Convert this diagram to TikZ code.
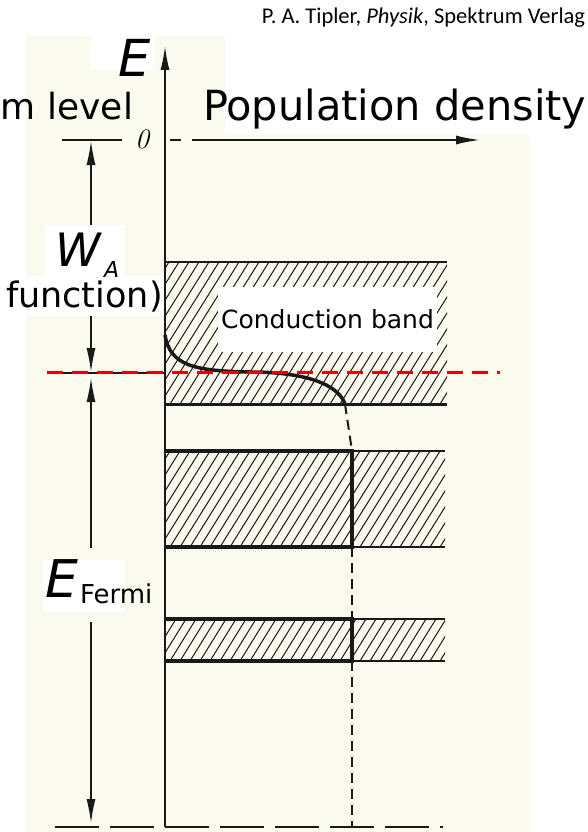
\documentclass[tikz,border=0pt]{standalone}
\usepackage{fontspec}
\newfontfamily\comic{DejaVu Sans}
\newfontfamily\titlefont{Carlito}
\usetikzlibrary{arrows.meta}
\definecolor{cream}{RGB}{250,250,238}
\definecolor{ink}{RGB}{25,25,25}
\definecolor{fermired}{RGB}{232,0,0}
\begin{document}
\begin{tikzpicture}[x=1pt,y=-1pt,
  axis/.style={ink,line width=1.8pt},
  dimline/.style={ink,line width=1.4pt},
  tipend/.style={-{Latex[length=24pt,width=9pt]}},
  tipboth/.style={{Latex[length=24pt,width=9pt]}-{Latex[length=24pt,width=9pt]}},
  tipstart/.style={{Latex[length=24pt,width=9pt]}-},
  hatch/.style={ink,line width=1pt},
  bandthick/.style={ink,line width=3.5pt},
  bandthin/.style={ink,line width=1.8pt},
  occdash/.style={ink,line width=2pt,dash pattern=on 10pt off 6pt},
  lbl/.style={inner sep=0pt,outer sep=0pt},
  wbox/.style={fill=white,draw=none},
]
\useasboundingbox (0,0) rectangle (588,832);
\fill[white] (0,0) rectangle (588,832);
\fill[cream] (26,36) rectangle (530,832);
% white label patches
\fill[wbox] (90,36) rectangle (155,70);
\fill[wbox] (225,36) rectangle (530,135);

% ---------- hatching of bands ----------
\begin{scope}
  \clip (165,262) rectangle (447,404);
  \foreach \x in {70,80,...,460} \draw[hatch] (\x,404) -- ++(89,-142);
\end{scope}
\begin{scope}
  \clip (165,451) rectangle (445,547);
  \foreach \x in {100,110,...,450} \draw[hatch] (\x,547) -- ++(60,-96);
\end{scope}
\begin{scope}
  \clip (165,619) rectangle (445,661);
  \foreach \x in {130,140,...,450} \draw[hatch] (\x,661) -- ++(26,-42);
\end{scope}

% Conduction band label
\node[lbl,fill=white,minimum width=219pt,minimum height=65pt,font=\comic\fontsize{25}{28}\selectfont]
  (cb) at (327.5,319.5) {Conduction band};

% ---------- band edges ----------
\coordinate (b1tl) at (165,262); \coordinate (b1tr) at (447,262);
\coordinate (b1bl) at (165,404); \coordinate (b1br) at (447,404);
\draw[bandthin] (b1tl) -- (b1tr);
\draw[ink,line width=3pt] (b1bl) -- (b1br);

\coordinate (b2tl) at (165,451); \coordinate (b2tm) at (352,451); \coordinate (b2tr) at (445,451);
\coordinate (b2bl) at (165,547); \coordinate (b2bm) at (352,547); \coordinate (b2br) at (445,547);
\draw[bandthin] (b2tm) -- (b2tr);
\draw[bandthin] (b2bm) -- (b2br);
\draw[bandthick,line join=miter] (b2tl) -- (b2tm) -- (b2bm) -- (b2bl);

\coordinate (b3tl) at (165,619); \coordinate (b3tm) at (352,619); \coordinate (b3tr) at (445,619);
\coordinate (b3bl) at (165,661); \coordinate (b3bm) at (352,661); \coordinate (b3br) at (445,661);
\draw[bandthin] (b3tm) -- (b3tr);
\draw[bandthin] (b3bm) -- (b3br);
\draw[bandthick,line join=miter] (b3tl) -- (b3tm) -- (b3bm) -- (b3bl);

% ---------- occupation curve ----------
\coordinate (c0) at (165,335);
\coordinate (c1) at (250,372);
\coordinate (c2) at (345,404);
\draw[ink,line width=3.5pt] (c0) .. controls (170,366) and (195,371) .. (c1)
      .. controls (305,372) and (338,384) .. (c2);
\coordinate (dbot) at (352,827);
\draw[occdash] (c2) -- (b2tm);
\draw[occdash] (b2bm) -- (b3tm);
\draw[occdash] (b3bm) -- (dbot);

% ---------- axes ----------
\coordinate (origin) at (165,140);
\coordinate (ebot) at (165,827);
\coordinate (etop) at (165,46);
\draw[axis,tipend] (ebot) -- (etop);
\coordinate (h1) at (170,140); \coordinate (h2) at (181,140);
\coordinate (h3) at (192,140); \coordinate (htip) at (480,140);
\draw[axis] (h1) -- (h2);
\draw[axis,tipend] (h3) -- (htip);
\coordinate (bl) at (55,827); \coordinate (br) at (443,827);
\draw[ink,line width=2.5pt,dash pattern=on 44pt off 11pt] (bl) -- (br);

% ---------- dimension lines ----------
\coordinate (vacl) at (62,140); \coordinate (vacr) at (122,140);
\draw[dimline] (vacl) -- (vacr);
\coordinate (ferl) at (60,373);
\draw[dimline] (ferl) -- (165,373);
\coordinate (d1) at (91,141); \coordinate (d2) at (91,372);
\draw[dimline,tipboth] (d1) -- (d2);
\coordinate (d3) at (91,378); \coordinate (d4) at (91,548);
\draw[dimline,tipstart] (d3) -- (d4);
\coordinate (d5) at (91,622); \coordinate (d6) at (91,823);
\draw[dimline,tipend] (d5) -- (d6);

% Fermi level (red dashed)
\coordinate (fl) at (47,372); \coordinate (fr) at (500,372);
\draw[fermired,line width=3pt,dash pattern=on 16pt off 9pt] (fl) -- (fr);

% ---------- labels ----------
\fill[wbox] (45,225) rectangle (125,276);
\fill[wbox] (0,276) rectangle (163,316);
\fill[wbox] (43,560) rectangle (125,612);

\node[lbl,anchor=base east,font=\titlefont\fontsize{22.5}{25}\selectfont] (title) at (585,24)
  {P. A. Tipler, \textit{Physik}, Spektrum Verlag};
\node[lbl,anchor=base,font=\comic\itshape\fontsize{51}{56}\selectfont] (elabel) at (135,77) {E};
\node[lbl,anchor=base,font=\rmfamily\itshape\fontsize{28}{32}\selectfont] (zero) at (142,148) {0};
\node[lbl,anchor=base west,font=\comic\fontsize{41.5}{46}\selectfont] (pop) at (203,121) {Population density};
\node[lbl,anchor=base west,font=\comic\fontsize{36}{42}\selectfont] (vac) at (1,120) {m level};
\node[lbl,anchor=base,font=\comic\itshape\fontsize{46}{50}\selectfont] (wa) at (78,266) {W};
\node[lbl,anchor=base west,font=\comic\itshape\fontsize{22}{26}\selectfont] (wasub) at (104,277) {A};
\node[lbl,anchor=base west,font=\comic\fontsize{35}{40}\selectfont] (func) at (6,307) {function)};
\node[lbl,anchor=base,font=\comic\itshape\fontsize{52}{56}\selectfont] (ef) at (62,597) {E};
\node[lbl,anchor=base west,font=\comic\fontsize{26}{30}\selectfont] (efsub) at (80,603) {Fermi};
\end{tikzpicture}
\end{document}
